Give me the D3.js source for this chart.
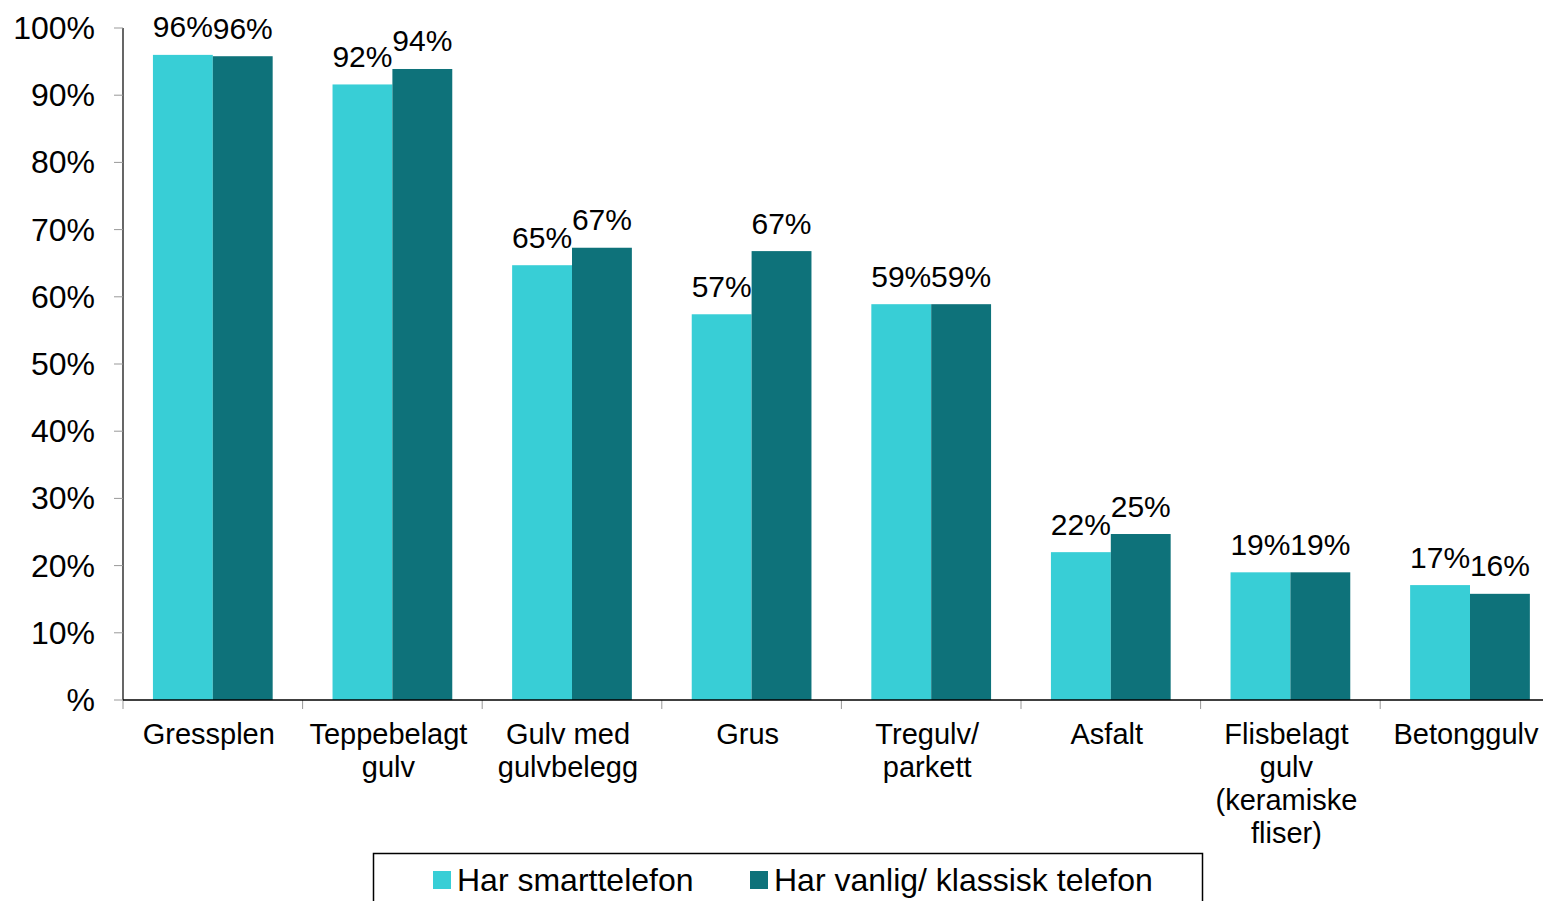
<!DOCTYPE html>
<html>
<head>
<meta charset="utf-8">
<script src="https://cdn.jsdelivr.net/npm/d3@7"></script>
<style>
  body { margin: 0; background: #fff; }
  svg { display: block; font-family: "Liberation Sans", Arial, sans-serif; }
</style>
</head>
<body>
<div id="chart"></div>
<script>
// data
const categories = [
  ['Gressplen'],
  ['Teppebelagt', 'gulv'],
  ['Gulv med', 'gulvbelegg'],
  ['Grus'],
  ['Tregulv/', 'parkett'],
  ['Asfalt'],
  ['Flisbelagt', 'gulv', '(keramiske', 'fliser)'],
  ['Betonggulv']
];
const seriesNames = ['Har smarttelefon', 'Har vanlig/ klassisk telefon'];
const smartValues = [96, 91.6, 64.7, 57.4, 58.9, 22.0, 19.0, 17.1];
const classicValues = [95.8, 93.9, 67.3, 66.8, 58.9, 24.7, 19.0, 15.8];
const smartLabels = ['96%', '92%', '65%', '57%', '59%', '22%', '19%', '17%'];
const classicLabels = ['96%', '94%', '67%', '67%', '59%', '25%', '19%', '16%'];
const yTicks = [0, 10, 20, 30, 40, 50, 60, 70, 80, 90, 100];
const colors = ['#38ced6', '#0e727a'];

const W = 1543, H = 901;
const margin = { left: 123, top: 28 };
const plotH = 672;
const bandW = 179.6;

const svg = d3.select('#chart').append('svg')
  .attr('width', W)
  .attr('height', H);

const x = d3.scaleBand()
  .domain(d3.range(categories.length))
  .range([margin.left, margin.left + bandW * categories.length])
  .paddingInner(0)
  .paddingOuter(0);

// two bars of 60px centred in each band
const xs = d3.scaleBand()
  .domain([0, 1])
  .range([0, x.bandwidth()])
  .paddingOuter(0.5)
  .paddingInner(0);

const y = d3.scaleLinear()
  .domain([0, 100])
  .range([margin.top + plotH, margin.top]);

const series = [smartValues, classicValues];
const labels = [smartLabels, classicLabels];

// bars
series.forEach((vals, s) => {
  svg.append('g')
    .selectAll('rect')
    .data(vals)
    .join('rect')
    .attr('x', (d, i) => x(i) + xs(s))
    .attr('y', d => y(d))
    .attr('width', xs.bandwidth())
    .attr('height', d => y(0) - y(d))
    .attr('fill', colors[s]);

  svg.append('g')
    .selectAll('text')
    .data(vals)
    .join('text')
    .attr('x', (d, i) => x(i) + xs(s) + xs.bandwidth() / 2)
    .attr('y', d => y(d) - 17.5)
    .attr('text-anchor', 'middle')
    .style('font-size', '30px')
    .attr('fill', '#000')
    .text((d, i) => labels[s][i]);
});

// y axis
const yAxis = svg.append('g');
yAxis.append('line')
  .attr('x1', margin.left).attr('x2', margin.left)
  .attr('y1', y(100)).attr('y2', y(0))
  .attr('stroke', '#000').attr('stroke-width', 1.2);
yAxis.selectAll('line.tick')
  .data(yTicks)
  .join('line')
  .attr('class', 'tick')
  .attr('x1', margin.left - 9).attr('x2', margin.left)
  .attr('y1', d => y(d)).attr('y2', d => y(d))
  .attr('stroke', '#999');
yAxis.selectAll('text')
  .data(yTicks)
  .join('text')
  .attr('x', 95)
  .attr('y', d => y(d) + 11)
  .attr('text-anchor', 'end')
  .style('font-size', '32px')
  .text(d => d === 0 ? '%' : d + '%');

// x axis
const xAxis = svg.append('g');
xAxis.selectAll('line.tick')
  .data(d3.range(categories.length + 1))
  .join('line')
  .attr('class', 'tick')
  .attr('x1', i => margin.left + i * bandW).attr('x2', i => margin.left + i * bandW)
  .attr('y1', y(0)).attr('y2', y(0) + 9)
  .attr('stroke', '#999');
xAxis.append('line')
  .attr('x1', margin.left).attr('x2', W)
  .attr('y1', y(0)).attr('y2', y(0))
  .attr('stroke', '#000').attr('stroke-width', 1.5);

xAxis.selectAll('text')
  .data(categories)
  .join('text')
  .attr('x', (d, i) => x(i) + x.bandwidth() / 2 - 4)
  .attr('y', 744)
  .attr('text-anchor', 'middle')
  .style('font-size', '29px')
  .each(function (d) {
    const t = d3.select(this);
    const cx = t.attr('x');
    d.forEach((line, k) => {
      t.append('tspan')
        .attr('x', cx)
        .attr('dy', k === 0 ? 0 : 33)
        .text(line);
    });
  });

// legend
const legend = svg.append('g');
legend.append('rect')
  .attr('x', 373.5).attr('y', 853.5)
  .attr('width', 829).attr('height', 60)
  .attr('fill', 'none')
  .attr('stroke', '#000')
  .attr('stroke-width', 1.5);
const legendX = [433, 750];
seriesNames.forEach((name, s) => {
  legend.append('rect')
    .attr('x', legendX[s]).attr('y', 871)
    .attr('width', 18).attr('height', 18)
    .attr('fill', colors[s]);
  legend.append('text')
    .attr('x', legendX[s] + 24)
    .attr('y', 891)
    .style('font-size', '32px')
    .text(name);
});
</script>
</body>
</html>
